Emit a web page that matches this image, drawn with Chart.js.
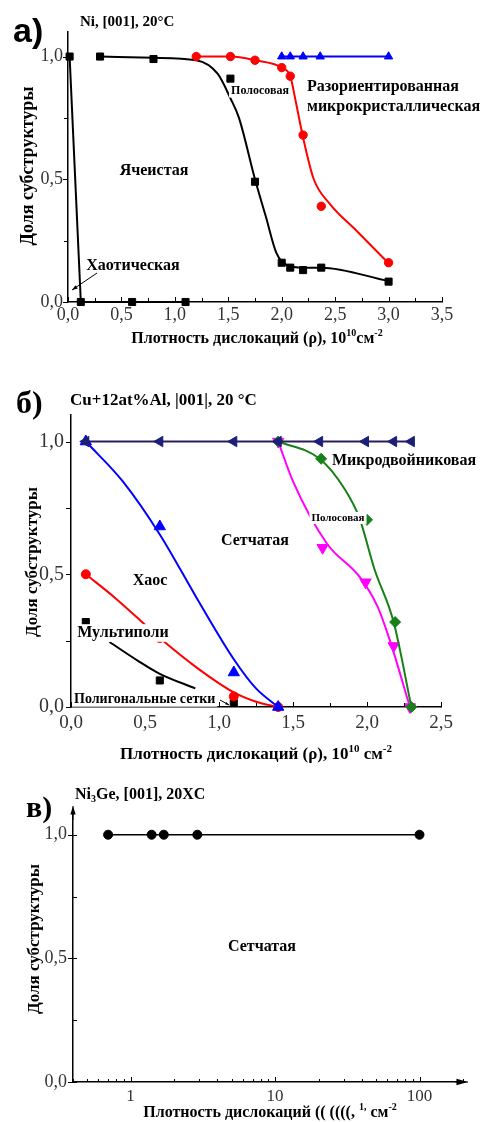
<!doctype html>
<html lang="ru">
<head>
<meta charset="utf-8">
<title>Доля субструктуры</title>
<style>
  * { margin: 0; padding: 0; }
  body { background: #fff; width: 481px; height: 1122px; position: relative; overflow: hidden; }
  .panel { position: absolute; left: 0; }
  #boxA { top: 0; }
  #boxB { top: 380px; }
  #boxC { top: 780px; }
</style>
</head>
<body>
<div class="panel" id="boxA"><canvas id="chartA" width="481" height="350"></canvas></div>
<div class="panel" id="boxB"><canvas id="chartB" width="481" height="390"></canvas></div>
<div class="panel" id="boxC"><canvas id="chartC" width="481" height="342"></canvas></div>

<script src="https://cdn.jsdelivr.net/npm/chart.js/dist/chart.umd.min.js"></script>
<script>
// panel a: Ni, [001], 20°C
const aChaosX = [0.015, 0.12, 0.6, 1.1];
const aChaosY = [1.0, 0.0, 0.0, 0.0];
const aCellX = [0.3, 0.8, 1.52, 1.75, 2.0, 2.08, 2.2, 2.37, 3.0];
const aCellY = [1.0, 0.99, 0.91, 0.49, 0.16, 0.14, 0.13, 0.14, 0.083];
const aCellCurveX = [0.3, 0.8, 1.2, 1.4, 1.52, 1.6, 1.75, 1.85, 1.95, 2.05, 2.2, 2.37, 3.0];
const aCellCurveY = [1.0, 0.995, 0.985, 0.93, 0.83, 0.75, 0.5, 0.35, 0.2, 0.15, 0.14, 0.14, 0.085];
const aRedX = [1.2, 1.52, 1.75, 2.0, 2.08, 2.2, 2.37, 3.0];
const aRedY = [1.0, 1.0, 0.985, 0.955, 0.92, 0.68, 0.39, 0.16];
const aRedCurveX = [1.2, 1.52, 1.75, 2.0, 2.08, 2.13, 2.2, 2.3, 2.45, 2.7, 3.0];
const aRedCurveY = [1.0, 1.0, 0.985, 0.955, 0.92, 0.82, 0.67, 0.5, 0.4, 0.29, 0.158];
const aBlueX = [2.0, 2.08, 2.2, 2.36, 3.0];
const aBlueY = [1, 1, 1, 1, 1];

// panel b: Cu+12at%Al
const bNetX = [0.1, 0.6, 1.1, 1.4, 1.68, 1.99, 2.18, 2.3];
const bNetY = [1, 1, 1, 1, 1, 1, 1, 1];
const bChaosX = [0.1, 0.6, 1.1, 1.4];
const bChaosY = [1.0, 0.68, 0.13, 0.0];
const bChaosCurveX = [0.1, 0.35, 0.6, 0.85, 1.1, 1.25, 1.4];
const bChaosCurveY = [1.0, 0.85, 0.65, 0.41, 0.18, 0.07, 0.0];
const bMultiX = [0.1, 0.6, 1.1, 1.4];
const bMultiY = [0.5, 0.26, 0.04, 0.0];
const bMultiCurveX = [0.1, 0.3, 0.5, 0.6, 0.87, 1.1, 1.25, 1.4];
const bMultiCurveY = [0.5, 0.41, 0.31, 0.26, 0.14, 0.055, 0.02, 0.0];
const bPolyX = [0.1, 0.6, 1.1];
const bPolyY = [0.32, 0.10, 0.015];
const bPolyCurveX = [0.26, 0.45, 0.6, 0.84];
const bPolyCurveY = [0.245, 0.175, 0.125, 0.07];
const bBandX = [1.4, 1.7, 1.99, 2.18, 2.29];
const bBandY = [1.0, 0.6, 0.47, 0.23, 0.0];
const bBandCurveX = [1.4, 1.5, 1.73, 1.95, 2.07, 2.155, 2.29];
const bBandCurveY = [1.0, 0.85, 0.615, 0.49, 0.38, 0.25, 0.0];
const bTwinX = [1.4, 1.69, 2.0, 2.19, 2.3];
const bTwinY = [1.0, 0.935, 0.705, 0.32, 0.0];
const bTwinCurveX = [1.4, 1.68, 1.85, 1.95, 2.05, 2.18, 2.3];
const bTwinCurveY = [1.0, 0.935, 0.82, 0.71, 0.52, 0.32, 0.0];

// panel c: Ni3Ge
const cX = [0.7, 1.4, 1.7, 2.9, 100];
const cY = [1, 1, 1, 1, 1];
const cLogTicks = [0.4, 0.5, 0.6, 0.7, 0.8, 0.9, 1, 2, 3, 4, 5, 6, 7, 8, 9,
  10, 20, 30, 40, 50, 60, 70, 80, 90, 100, 200];
const cTickLabels = [1, 10, 100];

const SERIF = '"Liberation Serif", "DejaVu Serif", serif';
Chart.defaults.font.family = SERIF;
Chart.defaults.color = '#333';

function pts(xs, ys) { return xs.map((x, i) => ({ x: x, y: ys[i] })); }

function marks(xs, ys, color, style, r, rot) {
  return {
    data: pts(xs, ys), showLine: false, pointStyle: style, pointRadius: r,
    pointRotation: rot || 0, backgroundColor: color, borderColor: color,
    borderWidth: 1, clip: false
  };
}

function curve(xs, ys, color, w, smooth) {
  return {
    data: pts(xs, ys), showLine: true, pointRadius: 0, borderColor: color,
    borderWidth: w, tension: 0, cubicInterpolationMode: smooth ? 'monotone' : 'default',
    clip: false
  };
}

function comma(v, d) { return v.toFixed(d).replace('.', ','); }
function halfLabel(v) { return Math.round(v * 4) % 2 === 0 ? comma(v, 1) : ''; }

function drawLabel(ctx, t) {
  const fam = t.family || SERIF;
  const fontOf = p => 'bold ' + (p[1] ? Math.round(t.size * 0.65) : t.size) + 'px ' + fam;
  let w = 0;
  t.parts.forEach(p => { ctx.font = fontOf(p); w += ctx.measureText(p[0]).width; });
  ctx.save();
  ctx.translate(t.x, t.y);
  if (t.rot) ctx.rotate(-Math.PI / 2);
  let x0 = t.align === 'left' ? 0 : -w / 2;
  if (t.bg) {
    ctx.fillStyle = '#fff';
    ctx.fillRect(x0 - 2, -t.size * 0.55, w + 4, t.size * 1.1);
  }
  ctx.fillStyle = '#000';
  ctx.textBaseline = 'middle';
  ctx.textAlign = 'left';
  t.parts.forEach(p => {
    ctx.font = fontOf(p);
    const dy = p[1] === 'sup' ? -t.size * 0.35 : p[1] === 'sub' ? t.size * 0.3 : 0;
    ctx.fillText(p[0], x0, dy);
    x0 += ctx.measureText(p[0]).width;
  });
  ctx.restore();
}

function drawArrow(ctx, a) {
  const x1 = a.from[0], y1 = a.from[1], x2 = a.to[0], y2 = a.to[1];
  ctx.strokeStyle = '#000';
  ctx.fillStyle = '#000';
  ctx.lineWidth = a.w || 1;
  ctx.beginPath(); ctx.moveTo(x1, y1); ctx.lineTo(x2, y2); ctx.stroke();
  const ang = Math.atan2(y2 - y1, x2 - x1), h = a.head || 6, s = a.spread || 0.35;
  ctx.beginPath();
  ctx.moveTo(x2, y2);
  ctx.lineTo(x2 - h * Math.cos(ang - s), y2 - h * Math.sin(ang - s));
  ctx.lineTo(x2 - h * Math.cos(ang + s), y2 - h * Math.sin(ang + s));
  ctx.closePath();
  ctx.fill();
}

// ticks, labels and arrows drawn on top of the chart
function decor(spec) {
  return {
    id: 'decor',
    afterDraw(chart) {
      const ctx = chart.ctx, area = chart.chartArea;
      const sx = chart.scales.x, sy = chart.scales.y;
      ctx.save();
      ctx.strokeStyle = '#000';
      ctx.lineWidth = 1;
      sx.ticks.forEach(t => {
        const len = spec.xMajor(t.value) ? spec.xLen[0] : spec.xLen[1];
        const px = Math.round(sx.getPixelForValue(t.value)) + 0.5;
        ctx.beginPath();
        ctx.moveTo(px, area.bottom + len[1]);
        ctx.lineTo(px, area.bottom - len[0]);
        ctx.stroke();
      });
      sy.ticks.forEach(t => {
        const len = spec.yMajor(t.value) ? spec.yLen[0] : spec.yLen[1];
        const py = Math.round(sy.getPixelForValue(t.value)) + 0.5;
        ctx.beginPath();
        ctx.moveTo(area.left - len[1], py);
        ctx.lineTo(area.left + len[0], py);
        ctx.stroke();
      });
      (spec.arrows || []).forEach(a => drawArrow(ctx, a));
      spec.texts.forEach(t => drawLabel(ctx, t));
      ctx.restore();
    }
  };
}

function options(p) {
  return {
    responsive: false,
    devicePixelRatio: 1,
    animation: false,
    events: [],
    layout: { padding: { left: 0, top: p.top, right: p.right, bottom: 0 } },
    plugins: { legend: { display: false }, tooltip: { enabled: false } },
    scales: {
      x: Object.assign({
        grid: { display: false, drawTicks: false },
        border: { display: true, color: '#000', width: 1.5 },
        afterFit: s => { s.height = p.xh; }
      }, p.x),
      y: Object.assign({
        type: 'linear', min: 0, max: 1.1,
        grid: { display: false, drawTicks: false },
        border: { display: true, color: '#000', width: 1.5 },
        afterFit: s => { s.width = p.yw; }
      }, p.y)
    }
  };
}

const isHalf = v => Math.round(v * 4) % 2 === 0;

// ---------- a ----------
new Chart(document.getElementById('chartA'), {
  type: 'scatter',
  data: {
    datasets: [
      marks(aBlueX, aBlueY, '#0000ff', 'triangle', 4.8),
      curve(aBlueX, aBlueY, '#0000ff', 2, false),
      marks(aRedX, aRedY, '#ff0000', 'circle', 4.2),
      curve(aRedCurveX, aRedCurveY, '#ff0000', 2, true),
      marks(aCellX, aCellY, '#000', 'rect', 5),
      curve(aCellCurveX, aCellCurveY, '#000', 2, true),
      marks(aChaosX, aChaosY, '#000', 'rect', 5),
      curve(aChaosX, aChaosY, '#000', 2, false)
    ]
  },
  options: options({
    top: 32, right: 39, xh: 48, yw: 68,
    x: { type: 'linear', min: 0, max: 3.5,
      ticks: { stepSize: 0.25, autoSkip: false, maxRotation: 0, includeBounds: false,
        padding: 2, font: { size: 18 }, callback: halfLabel } },
    y: { ticks: { stepSize: 0.25, includeBounds: false, padding: 5, font: { size: 18 },
        callback: halfLabel } }
  }),
  plugins: [decor({
    xMajor: isHalf, xLen: [[5, 0], [4, 0]],
    yMajor: isHalf, yLen: [[0, 5], [0, 4]],
    arrows: [{ from: [97, 273], to: [72, 290], head: 6 }],
    texts: [
      { parts: [['а)']], x: 13, y: 33, size: 34, align: 'left', family: '"Liberation Sans", Arial, sans-serif' },
      { parts: [['Ni, [001], 20°C']], x: 80, y: 22, size: 15, align: 'left' },
      { parts: [['Полосовая']], x: 260, y: 91, size: 12, bg: true },
      { parts: [['Разориентированная']], x: 307, y: 87, size: 16, align: 'left' },
      { parts: [['микрокристаллическая']], x: 307, y: 107, size: 16, align: 'left' },
      { parts: [['Ячеистая']], x: 154, y: 171, size: 16 },
      { parts: [['Хаотическая']], x: 133, y: 266, size: 16 },
      { parts: [['Плотность дислокаций (ρ), 10'], ['10', 'sup'], ['см'], ['-2', 'sup']], x: 257, y: 339, size: 16 },
      { parts: [['Доля субструктуры']], x: 28, y: 166, size: 18, rot: true }
    ]
  })]
});

// ---------- б ----------
new Chart(document.getElementById('chartB'), {
  type: 'scatter',
  data: {
    datasets: [
      marks(bNetX, bNetY, '#1c1f78', 'triangle', 6, -90),
      curve(bNetX, bNetY, '#2a1d5e', 2, false),
      marks(bTwinX, bTwinY, '#178017', 'rectRot', 5.5),
      curve(bTwinCurveX, bTwinCurveY, '#178017', 2, true),
      marks(bBandX, bBandY, '#ff00ff', 'triangle', 6.5, 180),
      curve(bBandCurveX, bBandCurveY, '#ff00ff', 2, true),
      marks(bChaosX, bChaosY, '#0000ff', 'triangle', 6.5),
      curve(bChaosCurveX, bChaosCurveY, '#0000ff', 2, true),
      marks(bMultiX, bMultiY, '#ff0000', 'circle', 4.5),
      curve(bMultiCurveX, bMultiCurveY, '#ff0000', 2, true),
      marks(bPolyX, bPolyY, '#000', 'rect', 5),
      curve(bPolyCurveX, bPolyCurveY, '#000', 2, true)
    ]
  },
  options: options({
    top: 35, right: 40, xh: 63, yw: 71,
    x: { type: 'linear', min: 0, max: 2.5,
      ticks: { stepSize: 0.25, autoSkip: false, maxRotation: 0, includeBounds: false,
        padding: 5, font: { size: 19 }, callback: halfLabel } },
    y: { ticks: { stepSize: 0.25, includeBounds: false, padding: 7, font: { size: 20 },
        callback: halfLabel } }
  }),
  plugins: [decor({
    xMajor: isHalf, xLen: [[5, 0], [4, 0]],
    yMajor: isHalf, yLen: [[0, 5], [0, 5]],
    arrows: [{ from: [220, 320], to: [229, 325], head: 4 }],
    texts: [
      { parts: [['б)']], x: 16, y: 25, size: 32, align: 'left' },
      { parts: [['Cu+12at%Al, |001|, 20 °C']], x: 70, y: 21, size: 17, align: 'left' },
      { parts: [['Микродвойниковая']], x: 332, y: 81, size: 16, align: 'left' },
      { parts: [['Полосовая']], x: 338, y: 138, size: 11, bg: true },
      { parts: [['Сетчатая']], x: 255, y: 161, size: 16 },
      { parts: [['Хаос']], x: 150, y: 201, size: 16 },
      { parts: [['Мультиполи']], x: 123, y: 253, size: 16, bg: true },
      { parts: [['Полигональные сетки']], x: 74, y: 319, size: 14, align: 'left', bg: true },
      { parts: [['Плотность дислокаций (ρ), 10'], ['10', 'sup'], [' см'], ['-2', 'sup']], x: 256, y: 375, size: 17 },
      { parts: [['Доля субструктуры']], x: 33, y: 182, size: 17, rot: true }
    ]
  })]
});

// ---------- в ----------
new Chart(document.getElementById('chartC'), {
  type: 'scatter',
  data: {
    datasets: [
      marks(cX, cY, '#000', 'circle', 4.5),
      curve(cX, cY, '#000', 1.5, false)
    ]
  },
  options: options({
    top: 30, right: 18, xh: 40, yw: 73,
    x: { type: 'logarithmic', min: 0.4, max: 200,
      afterBuildTicks: s => { s.ticks = cLogTicks.map(v => ({ value: v })); },
      ticks: { autoSkip: false, maxRotation: 0, padding: 4, font: { size: 17 },
        callback: v => (cTickLabels.includes(v) ? String(v) : '') } },
    y: { ticks: { stepSize: 0.25, includeBounds: false, padding: 6, font: { size: 18 },
        callback: halfLabel } }
  }),
  plugins: [decor({
    xMajor: v => cTickLabels.includes(v), xLen: [[5, 0], [3, 0]],
    yMajor: isHalf, yLen: [[4, 5], [4, 0]],
    arrows: [
      { from: [73, 40], to: [73, 26], head: 9, spread: 0.3 },
      { from: [455, 302], to: [468, 302], head: 12, spread: 0.28 }
    ],
    texts: [
      { parts: [['в)']], x: 26, y: 29, size: 30, align: 'left' },
      { parts: [['Ni'], ['3', 'sub'], ['Ge, [001], 20XC']], x: 75, y: 15, size: 16, align: 'left' },
      { parts: [['Сетчатая']], x: 262, y: 167, size: 16 },
      { parts: [['Плотность дислокаций (( ((((, '], ['1,', 'sup'], [' см'], ['-2', 'sup']], x: 270, y: 333, size: 16 },
      { parts: [['Доля субструктуры']], x: 35, y: 159, size: 17, rot: true }
    ]
  })]
});
</script>
</body>
</html>
